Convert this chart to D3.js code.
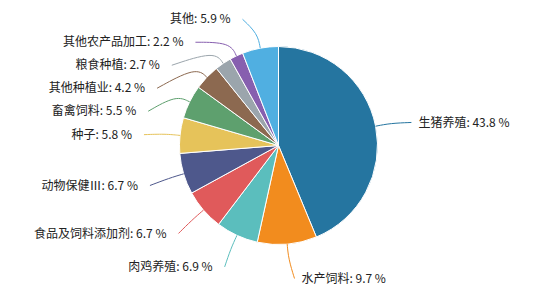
<!DOCTYPE html>
<html>
<head>
<meta charset="utf-8">
<script src="https://cdn.jsdelivr.net/npm/d3@7"></script>
<style>
  body { margin: 0; background: #fff; }
  svg { display: block; }
</style>
</head>
<body>
<div id="chart"></div>
<script>
const categories = ['生猪养殖', '水产饲料', '肉鸡养殖', '食品及饲料添加剂', '动物保健Ⅲ', '种子', '畜禽饲料', '其他种植业', '粮食种植', '其他农产品加工', '其他'];
const shares = [43.8, 9.7, 6.9, 6.7, 6.7, 5.8, 5.5, 4.2, 2.7, 2.2, 5.9];
const colors = ['#2575a0', '#f28c1e', '#5bbebd', '#e05a5b', '#4e588c', '#e6c35a', '#5ea06e', '#8c6950', '#9ba5ac', '#875faf', '#50afe1'];

const width = 550;
const height = 295;
const cx = 278.5;
const cy = 145.5;
const r = 99;

const svg = d3.select('#chart')
              .append('svg')
              .attr('width', width)
              .attr('height', height)

const rows = categories.map((c, i) => ({name: c, value: shares[i], color: colors[i]}))

const pie = d3.pie().sort(null).value(d => d.value)
const arcs = pie(rows)
const arc = d3.arc().innerRadius(0).outerRadius(r)

const g = svg.append('g').attr('transform', `translate(${cx},${cy})`)

g.selectAll('path.slice')
 .data(arcs)
 .enter()
 .append('path')
 .attr('class', 'slice')
 .attr('d', arc)
 .attr('fill', d => d.data.color)
 .attr('stroke', '#fff')
 .attr('stroke-width', 1)

// label layout: start on a ring, push apart per side, then put x on an ellipse
const ringR = 131, rx = 135, ry = 131, minGap = 23;
const labels = arcs.map(d => {
  const a = (d.startAngle + d.endAngle) / 2;
  const side = Math.sin(a) >= 0 ? 1 : -1;
  return {d, a, side, y: -ringR * Math.cos(a) + 2.5}
})

;[1, -1].forEach(s => {
  const list = labels.filter(l => l.side === s).sort((p, q) => p.y - q.y)
  for (let i = 1; i < list.length; i++) {
    if (list[i].y - list[i - 1].y < minGap) list[i].y = list[i - 1].y + minGap
  }
})

labels.forEach(l => {
  const sa = Math.sin(l.a), ca = Math.cos(l.a);
  l.p0 = [r * sa, -r * ca]
  l.p1 = [(r + 15) * sa, -(r + 15) * ca]
  const k = Math.max(0, 1 - (l.y * l.y) / (ry * ry))
  let ex = l.side * rx * Math.sqrt(k)
  if (l.side > 0) ex = Math.max(ex, l.p1[0] + 6)
  else ex = Math.min(ex, l.p1[0] - 6)
  l.p2 = [ex, l.y]
})

const line = d3.line().curve(d3.curveBasis)

g.selectAll('path.guide')
 .data(labels)
 .enter()
 .append('path')
 .attr('class', 'guide')
 .attr('d', l => line([l.p0, l.p1, l.p2]))
 .attr('fill', 'none')
 .attr('stroke', l => l.d.data.color)
 .attr('stroke-width', 1)

g.selectAll('text.lbl')
 .data(labels)
 .enter()
 .append('text')
 .attr('class', 'lbl')
 .attr('x', l => l.p2[0] + (l.side > 0 ? 7 : -12))
 .attr('y', l => l.p2[1])
 .attr('dy', '0.35em')
 .attr('text-anchor', l => l.side > 0 ? 'start' : 'end')
 .style('font-family', '"Noto Sans CJK SC", "Noto Sans", sans-serif')
 .style('font-size', '12px')
 .style('fill', '#222')
 .text(l => `${l.d.data.name}: ${l.d.data.value.toFixed(1)} %`)
</script>
</body>
</html>
